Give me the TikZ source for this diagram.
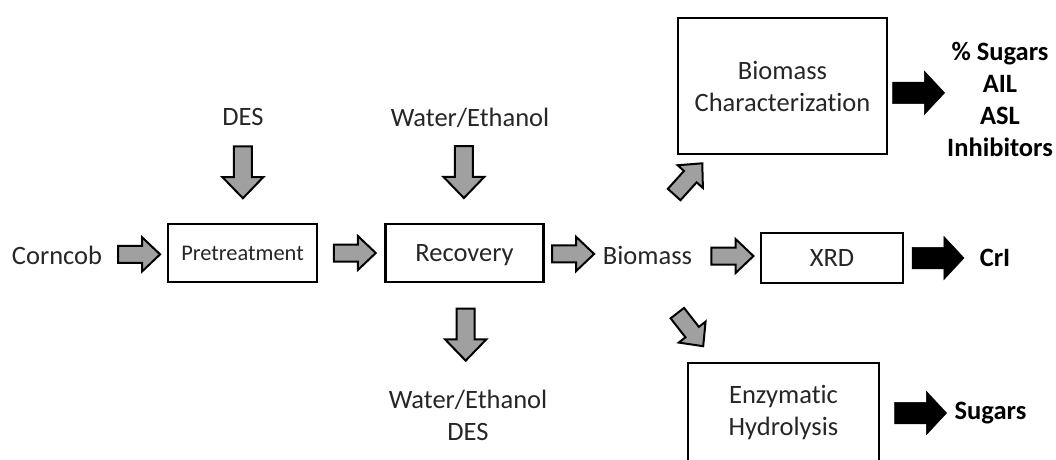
\documentclass[tikz,border=0pt]{standalone}
\usepackage{fontspec}
\setmainfont{Carlito}[Ligatures=NoCommon]
\usetikzlibrary{arrows.meta, positioning, calc, shapes.arrows}
\definecolor{arrowgray}{HTML}{A0A0A0}
\definecolor{textgray}{HTML}{262626}
\tikzset{
  procbox/.style={rectangle, draw=black, line width=2.5pt, fill=white,
                  align=center, text=textgray,
                  font=\fontsize{26.5}{32}\selectfont},
  lbl/.style={inner sep=0pt, align=center, text=textgray,
              font=\fontsize{26.5}{32}\selectfont},
  outlbl/.style={inner sep=0pt, align=center, text=black,
                 font=\fontsize{26.5}{32}\selectfont\bfseries},
  garr/.style={single arrow, draw=black, fill=arrowgray, line width=2pt,
               inner sep=7.5pt, single arrow head extend=8.5pt,
               single arrow tip angle=87, minimum height=42pt,
               anchor=tail, rotate=#1},
  garr/.default=0,
  garrv/.style={garr=-90, inner sep=8pt, single arrow head extend=11.5pt,
                single arrow tip angle=88, minimum height=52pt},
  barr/.style={single arrow, draw=black, fill=black, line width=0.5pt,
               inner sep=10.5pt, single arrow head extend=11pt,
               single arrow tip angle=94, minimum height=52pt, anchor=tail},
}

\begin{document}
\begin{tikzpicture}[x=1pt, y=-1pt]
  \useasboundingbox (0,0) rectangle (1056,459);
  \clip (0,0) rectangle (1056,459);

  \node[lbl] (cc) at (57,255) {Corncob};
  \node[procbox, minimum width=149pt, minimum height=58pt,
        font=\fontsize{22.4}{27}\selectfont] (pre) at (242.5,253) {Pretreatment};
  \node[procbox, minimum width=158pt, minimum height=58pt, text depth=0pt,
        right=66pt of pre] (rec) {Recovery};
  \node[lbl] (bio) at (647.5,255) {Biomass};
  \node[procbox, minimum width=142pt, minimum height=50pt] (xrd) at (832,258) {XRD};
  \node[procbox, minimum width=209pt, minimum height=136pt] (bc) at (782.5,86)
    {Biomass\\Characterization};
  \node[procbox, minimum width=191pt, minimum height=100pt] (ez) at (783.5,413)
    {Enzymatic\\Hydrolysis};

  \node[lbl] (des) at (243,117) {DES};
  \node[lbl] (wein) at (470,118) {Water/Ethanol};
  \node[lbl] (weout) at (468,415) {Water/Ethanol\\DES};

  \node[outlbl] (props) at (1000,99.5) {\%~Sugars\\AIL\\ASL\\Inhibitors};
  \node[outlbl] (cri) at (995,258) {CrI};
  \node[outlbl] (sug) at (990.5,413) {Sugars};

  \path (cc) -- node[garr, pos=0.23] {} (pre);
  \path (pre) -- node[garr, pos=0.22] {} (rec);
  \path (rec) -- node[garr, pos=0.11] {} (bio);
  \path (bio) -- node[garr, pos=0.27] {} (xrd);
  \path (des) -- node[garrv, pos=0.2] {} (pre);
  \path (wein) -- node[xshift=-5pt, garrv, pos=0.18] {} (rec);
  \path (rec) -- node[garrv, pos=0.23] {} (weout);
  \path (bio) -- node[xshift=-21pt, yshift=1pt, garr=48, pos=0.546] {} (bc);
  \path (bio) -- node[xshift=-19.3pt, yshift=-1pt, garr=-52, pos=0.482] {} (ez);

  \path (bc) -- node[barr, pos=0.07] {} (props);
  \path (xrd) -- node[barr, pos=0.1] {} (cri);
  \path (ez) -- node[barr, pos=0.19] {} (sug);
\end{tikzpicture}
\end{document}
